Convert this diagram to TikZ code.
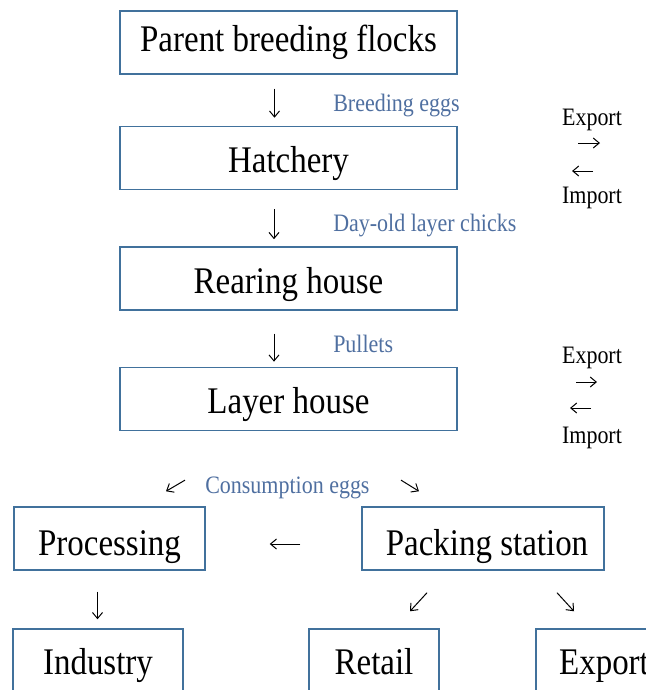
\documentclass[tikz,border=0pt]{standalone}
\usepackage{fontspec}
\setmainfont{Liberation Serif}
\newfontfamily\tallserif[FakeStretch=0.877]{Liberation Serif}
\usetikzlibrary{positioning, arrows.meta}
\definecolor{boxblue}{RGB}{65,113,156}
\definecolor{labelblue}{RGB}{79,111,160}

\begin{document}
\begin{tikzpicture}[x=0.75pt, y=-0.75pt, box/.style={rectangle,
            draw=boxblue, line width=1.1pt, minimum width=252.75pt,
            minimum height=47.25pt, inner sep=0pt, text depth=0pt,
            font=\tallserif\fontsize{28.2}{32}\selectfont},
        smallbox/.style={box, minimum width=#1},
        flowlabel/.style={text=labelblue, inner sep=0pt,
            anchor=base west,
            font=\tallserif\fontsize{18.8}{21}\selectfont},
        trade/.style={inner sep=0pt, anchor=base,
            font=\tallserif\fontsize{18.8}{21}\selectfont},
        flow/.style={-{Straight Barb[length=4.5pt, width=7.5pt]},
            line width=0.75pt}, ]

        \clip (0,0) rectangle (646,690);

        \node[box, text height=13.5pt] (parent) at (288.5,42.5) {Parent
            breeding flocks};

        \node[box, text height=21.75pt] (hatchery) [below=38.25pt of
        parent] {Hatchery};

        \node[box, text height=22.5pt] (rearing) [below=42pt of
        hatchery] {Rearing house};

        \node[box, text height=22.5pt] (layer) [below=42pt of rearing]
        {Layer house};

        \node[smallbox=143.25pt, text height=24.9pt] (processing) at
        (109.5,538.5) {Processing};

        \node[smallbox=181.5pt, text height=24.9pt] (packing) at
        (483,538.5) {\hspace{6pt}Packing station};

        \node[smallbox=127.5pt, text height=21.3pt] (industry) at
        (98,660.5) {Industry};

        \node[smallbox=97.5pt, text height=21.3pt] (retail) at
        (374,660.5) {Retail};

        \node[smallbox=102pt, text height=21.3pt] (export) at
        (604,660.5) {Export};

        \node[flowlabel] (breeding) at (333,111.5) {Breeding eggs};
        \node[flowlabel] (chicks) at (333,231) {Day-old layer chicks};
        \node[flowlabel] (pullets) at (333,352) {Pullets};
        \node[flowlabel] (consumption) at (205,493) {Consumption eggs};

        \node[trade] (exportA) at (592,125) {Export};
        \node[trade] (importA) at (592,203) {Import};
        \node[trade] (exportB) at (592,363) {Export};
        \node[trade] (importB) at (592,443) {Import};

        \draw[flow] ([shift={(-14,14)}]parent.south) --
        ([shift={(-14,-8)}]hatchery.north);

        \draw[flow] ([shift={(-14.5,19)}]hatchery.south) --
        ([shift={(-14.5,-7)}]rearing.north);

        \draw[flow] ([shift={(-14.5,23)}]rearing.south) --
        ([shift={(-14.5,-5)}]layer.north);

        \draw[flow] ([shift={(-103.5,49)}]layer.south) --
        ([shift={(56.5,-15)}]processing.north);

        \draw[flow] ([shift={(112.5,49)}]layer.south) --
        ([shift={(-64,-15)}]packing.north);

        \draw[flow] ([shift={(-61,5.5)}]packing.west) --
        ([shift={(64,5.5)}]processing.east);

        \draw[flow] ([shift={(-12,21)}]processing.south) --
        ([shift={(-0.5,-9)}]industry.north);

        \draw[flow] ([shift={(-56,22)}]packing.south) --
        ([shift={(36,-17)}]retail.north);

        \draw[flow] ([shift={(74,22)}]packing.south) --
        ([shift={(-30,-17)}]export.north);

        \draw[flow] ([shift={(-14,18)}]exportA.base) --
        ([shift={(8,-60)}]importA.base);

        \draw[flow] ([shift={(1,46)}]exportA.base) --
        ([shift={(-20,-32)}]importA.base);

        \draw[flow] ([shift={(-16,19)}]exportB.base) --
        ([shift={(5,-61)}]importB.base);

        \draw[flow] ([shift={(-1,45)}]exportB.base) --
        ([shift={(-22,-35)}]importB.base);
    \end{tikzpicture}
\end{document}
